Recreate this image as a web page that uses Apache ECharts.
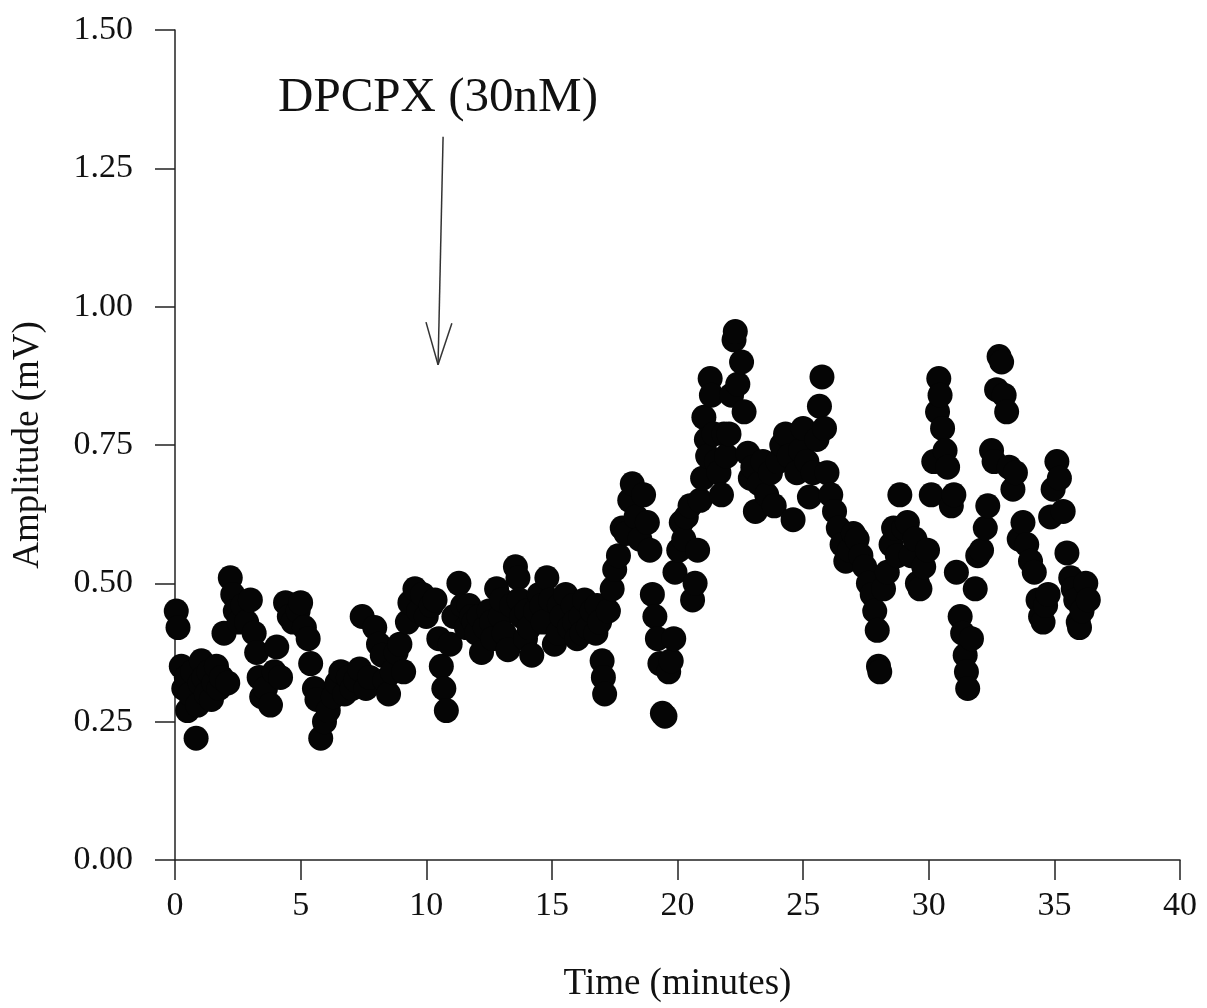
<!DOCTYPE html>
<html>
<head>
<meta charset="utf-8">
<script src="https://cdn.jsdelivr.net/npm/echarts@6/dist/echarts.min.js"></script>
<style>
  html, body { margin: 0; padding: 0; background: #fff; }
  #chart { width: 1207px; height: 1008px; }
</style>
</head>
<body>
<div id="chart"></div>
<script>
// time of each sweep (minutes)
var times = [
  0.05, 0.12, 0.25, 0.35, 0.45, 0.5, 0.6, 0.7, 0.84, 0.9,
  1.0, 1.05, 1.15, 1.25, 1.35, 1.45, 1.55, 1.65, 1.75, 1.85,
  1.95, 2.1, 2.2, 2.3, 2.4, 2.55, 2.7, 2.85, 3.0, 3.15,
  3.25, 3.35, 3.45, 3.6, 3.8, 3.95, 4.05, 4.2, 4.4, 4.55,
  4.7, 4.9, 5.0, 5.15, 5.3, 5.4, 5.55, 5.65, 5.8, 5.95,
  6.1, 6.3, 6.45, 6.6, 6.75, 6.9, 7.05, 7.2, 7.35, 7.45,
  7.6, 7.75, 7.95, 8.1, 8.25, 8.35, 8.5, 8.65, 8.8, 8.95,
  9.1, 9.25, 9.35, 9.55, 9.7, 9.85, 10.0, 10.2, 10.35, 10.5,
  10.6, 10.7, 10.8, 10.95, 11.1, 11.3, 11.45, 11.6, 11.7, 11.8, 11.9, 12.0,
  12.1, 12.2, 12.35, 12.5, 12.6, 12.65, 12.8, 12.95, 13.0, 13.1, 13.25, 13.4, 13.55,
  13.65, 13.7, 13.8, 13.95, 14.0, 14.1, 14.2, 14.35, 14.5, 14.6, 14.65, 14.8, 14.95,
  15.1, 15.25, 15.3, 15.4, 15.55, 15.7, 15.85, 15.9, 16.0, 16.15, 16.2, 16.3, 16.45,
  16.6, 16.75, 16.8, 16.9, 17.0, 17.05, 17.1, 17.25, 17.4, 17.5, 17.65,
  17.8, 17.95, 18.1, 18.2, 18.35, 18.5, 18.65, 18.8, 18.9, 19.0,
  19.1, 19.2, 19.3, 19.4, 19.5, 19.65, 19.75, 19.85, 19.9, 20.05,
  20.15, 20.25, 20.35, 20.5, 20.6, 20.7, 20.8, 20.9, 21.0, 21.05,
  21.15, 21.2, 21.3, 21.35, 21.45, 21.55, 21.65, 21.75, 21.85, 21.95,
  22.05, 22.15, 22.25, 22.3, 22.4, 22.55, 22.65, 22.8, 22.9, 23.0,
  23.1, 23.25, 23.4, 23.55, 23.7, 23.85, 24.0, 24.15, 24.3, 24.45,
  24.6, 24.75, 24.9, 25.0, 25.15, 25.25, 25.4, 25.55, 25.65, 25.75,
  25.85, 25.95, 26.1, 26.25, 26.4, 26.55, 26.7, 26.85, 27.0, 27.15,
  27.3, 27.45, 27.6, 27.75, 27.85, 27.95, 28.0, 28.05, 28.2, 28.35,
  28.5, 28.6, 28.75, 28.85, 29.0, 29.15, 29.3, 29.45, 29.55, 29.65,
  29.8, 29.95, 30.1, 30.2, 30.35, 30.4, 30.45, 30.55, 30.65, 30.75,
  30.9, 31.0, 31.1, 31.25, 31.35, 31.45, 31.5, 31.55, 31.7, 31.85,
  31.95, 32.1, 32.25, 32.35, 32.5, 32.6, 32.7, 32.8, 32.9, 33.0,
  33.1, 33.2, 33.35, 33.45, 33.6, 33.75, 33.9, 34.05, 34.2, 34.35,
  34.45, 34.55, 34.65, 34.75, 34.85, 34.95, 35.1, 35.2, 35.35, 35.5,
  35.65, 35.75, 35.85, 35.95, 36.0, 36.1, 36.25, 36.35
]
// amplitude (mV), same order as times
var amps = [
  0.45, 0.42, 0.35, 0.31, 0.33, 0.27, 0.30, 0.34, 0.22, 0.28,
  0.32, 0.36, 0.33, 0.30, 0.34, 0.29, 0.32, 0.35, 0.31, 0.33,
  0.41, 0.32, 0.51, 0.48, 0.45, 0.43, 0.46, 0.43, 0.47, 0.41,
  0.375, 0.33, 0.295, 0.31, 0.28, 0.34, 0.385, 0.33, 0.465, 0.44,
  0.43, 0.45, 0.465, 0.42, 0.40, 0.355, 0.31, 0.29, 0.22, 0.25,
  0.27, 0.295, 0.32, 0.34, 0.30, 0.33, 0.31, 0.325, 0.345, 0.44,
  0.31, 0.33, 0.42, 0.39, 0.37, 0.325, 0.30, 0.34, 0.375, 0.39,
  0.34, 0.43, 0.465, 0.49, 0.45, 0.48, 0.44, 0.46, 0.47, 0.40,
  0.35, 0.31, 0.27, 0.39, 0.44, 0.50, 0.46, 0.42, 0.46, 0.44, 0.43, 0.41,
  0.44, 0.375, 0.42, 0.45, 0.43, 0.40, 0.49, 0.44, 0.47, 0.41, 0.38, 0.46, 0.53,
  0.51, 0.47, 0.44, 0.40, 0.45, 0.42, 0.37, 0.45, 0.48, 0.46, 0.43, 0.51, 0.47,
  0.39, 0.41, 0.46, 0.44, 0.48, 0.42, 0.46, 0.43, 0.40, 0.44, 0.41, 0.47, 0.42,
  0.45, 0.41, 0.46, 0.43, 0.36, 0.33, 0.30, 0.45, 0.49, 0.525, 0.55,
  0.60, 0.59, 0.65, 0.68, 0.62, 0.58, 0.66, 0.61, 0.56, 0.48,
  0.44, 0.40, 0.355, 0.265, 0.26, 0.34, 0.36, 0.40, 0.52, 0.56,
  0.61, 0.58, 0.62, 0.64, 0.47, 0.50, 0.56, 0.65, 0.69, 0.80,
  0.76, 0.73, 0.87, 0.84, 0.77, 0.72, 0.70, 0.66, 0.77, 0.73,
  0.77, 0.84, 0.94, 0.955, 0.86, 0.90, 0.81, 0.735, 0.69, 0.71,
  0.63, 0.68, 0.72, 0.66, 0.70, 0.64, 0.72, 0.75, 0.77, 0.73,
  0.615, 0.70, 0.74, 0.78, 0.72, 0.656, 0.70, 0.76, 0.82, 0.873,
  0.78, 0.70, 0.66, 0.63, 0.60, 0.57, 0.54, 0.56, 0.59, 0.58,
  0.55, 0.53, 0.50, 0.48, 0.45, 0.415, 0.35, 0.34, 0.49, 0.52,
  0.57, 0.60, 0.55, 0.66, 0.60, 0.61, 0.55, 0.58, 0.50, 0.49,
  0.53, 0.56, 0.66, 0.72, 0.81, 0.87, 0.84, 0.78, 0.74, 0.71,
  0.64, 0.66, 0.52, 0.44, 0.41, 0.37, 0.34, 0.31, 0.40, 0.49,
  0.55, 0.56, 0.60, 0.64, 0.74, 0.72, 0.85, 0.91, 0.90, 0.84,
  0.81, 0.71, 0.67, 0.70, 0.58, 0.61, 0.57, 0.54, 0.52, 0.47,
  0.44, 0.43, 0.46, 0.48, 0.62, 0.67, 0.72, 0.69, 0.63, 0.555,
  0.51, 0.49, 0.47, 0.43, 0.42, 0.45, 0.50, 0.47
]
var xTicks = [0, 40, 5]      // min, max, step
var yTicks = [0, 1.5, 0.25]
var drugLabel = 'DPCPX (30nM)'
// arrow: shaft top, tip, and the two arms of the open head
var arrowTop = [10.67, 1.307]
var arrowTip = [10.47, 0.895]
var arrowArmL = [9.99, 0.972]
var arrowArmR = [11.02, 0.970]

var points = times.map(function (t, i) { return [t, amps[i]] })

var serif = '"Liberation Serif", "DejaVu Serif", serif'
var ink = '#111'

var chart = echarts.init(document.getElementById('chart'))
chart.setOption({
  backgroundColor: '#fff',
  animation: false,
  grid: { left: 175, right: 27, top: 30, bottom: 148 },
  xAxis: {
    type: 'value',
    min: xTicks[0],
    max: xTicks[1],
    interval: xTicks[2],
    name: 'Time (minutes)',
    nameLocation: 'middle',
    nameGap: 106,
    nameTextStyle: { fontFamily: serif, fontSize: 37, color: ink },
    axisLine: { lineStyle: { color: '#222', width: 1.5 } },
    axisTick: { length: 20, lineStyle: { color: '#222', width: 1.5 } },
    axisLabel: { margin: 29, fontFamily: serif, fontSize: 34, color: ink },
    splitLine: { show: false }
  },
  yAxis: {
    type: 'value',
    min: yTicks[0],
    max: yTicks[1],
    interval: yTicks[2],
    name: 'Amplitude (mV)',
    nameLocation: 'middle',
    nameGap: 128,
    nameTextStyle: { fontFamily: serif, fontSize: 37, color: ink },
    axisLine: { show: true, lineStyle: { color: '#222', width: 1.5 } },
    axisTick: { show: true, length: 20, lineStyle: { color: '#222', width: 1.5 } },
    axisLabel: {
      margin: 42, fontFamily: serif, fontSize: 34, color: ink,
      formatter: function (v) { return v.toFixed(2) }
    },
    splitLine: { show: false }
  },
  series: [{
    type: 'scatter',
    data: points,
    symbol: 'circle',
    symbolSize: 25,
    itemStyle: { color: '#050505', opacity: 1 },
    markLine: {
      silent: true,
      symbol: ['none', 'none'],
      label: { show: false },
      lineStyle: { color: '#333', width: 1.5, type: 'solid' },
      data: [
        [{ coord: arrowTop }, { coord: arrowTip }],
        [{ coord: arrowArmL }, { coord: arrowTip }],
        [{ coord: arrowArmR }, { coord: arrowTip }]
      ]
    }
  }],
  graphic: [{
    type: 'text',
    x: 438,
    y: 98,
    style: {
      text: drugLabel,
      font: '49px ' + serif,
      fill: ink,
      align: 'center',
      verticalAlign: 'middle',
      textAlign: 'center',
      textVerticalAlign: 'middle'
    }
  }]
})
</script>
</body>
</html>
